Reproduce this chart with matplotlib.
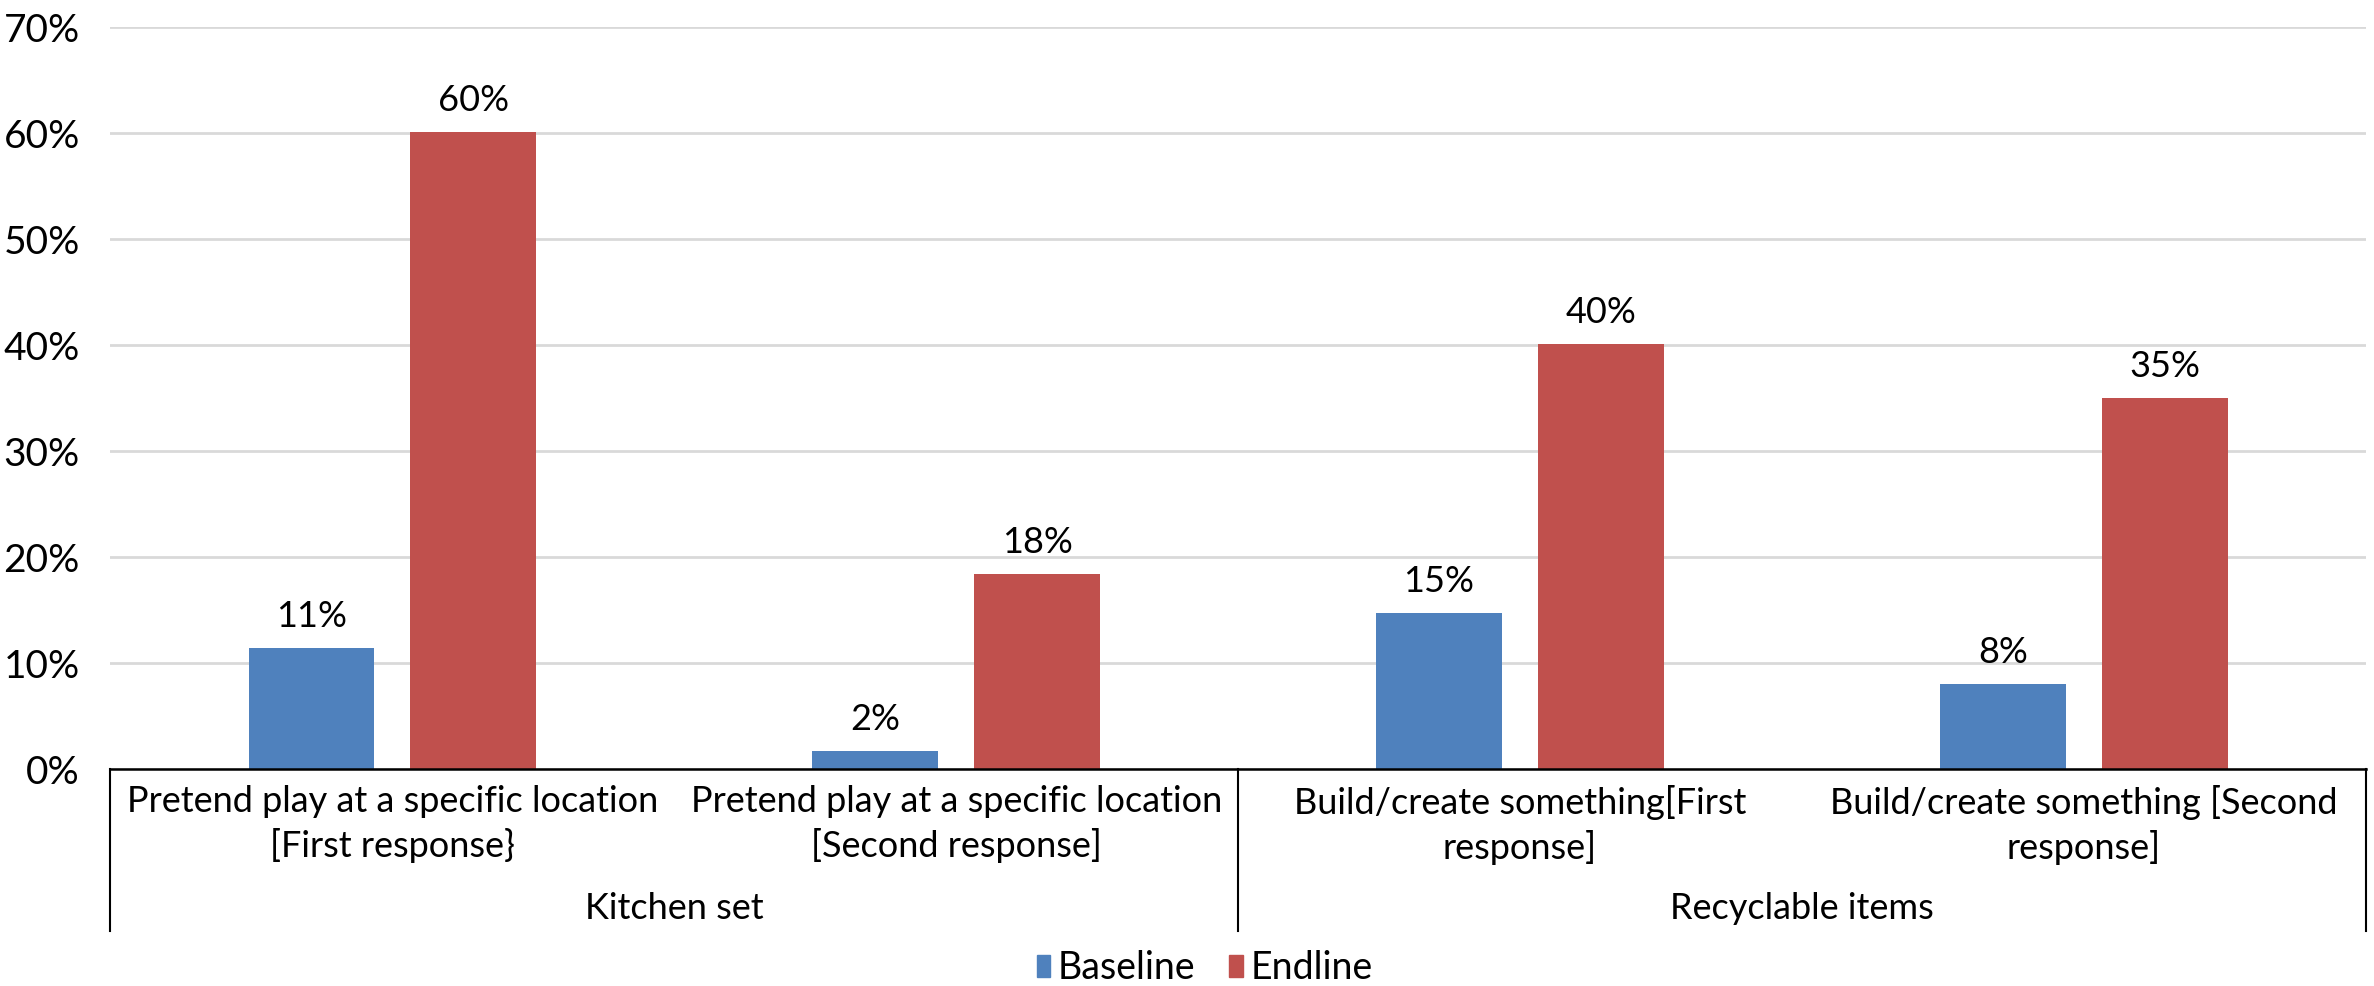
import numpy as np
import matplotlib
matplotlib.use("Agg")
import matplotlib.pyplot as plt
from matplotlib.ticker import MultipleLocator, FuncFormatter
from matplotlib.transforms import blended_transform_factory
from matplotlib.lines import Line2D
from matplotlib.patches import Patch

# Data
sub_categories = [
    "Pretend play at a specific location\n[First response}",
    "Pretend play at a specific location\n[Second response]",
    "Build/create something[First\nresponse]",
    "Build/create something [Second\nresponse]",
]
groups = ["Kitchen set", "Recyclable items"]
group_sizes = [2, 2]
baseline = [11.4, 1.7, 14.7, 8.0]
endline = [60.1, 18.4, 40.1, 35.0]
series_names = ["Baseline", "Endline"]
colors = ["#4F81BD", "#C0504D"]

plt.rcParams["font.family"] = ["Lato", "DejaVu Sans"]

fig = plt.figure(figsize=(23.74, 9.86), dpi=100)
ax = fig.add_axes([0.0465, 0.22, 0.95, 0.7525])

x = np.arange(len(sub_categories))
bw = 0.223
gap = 0.064
off = bw / 2 + gap / 2

b1 = ax.bar(x - off, baseline, bw, color=colors[0], zorder=3)
b2 = ax.bar(x + off, endline, bw, color=colors[1], zorder=3)

for bars, vals in ((b1, baseline), (b2, endline)):
    for rect, v in zip(bars, vals):
        ax.annotate(f"{v:.0f}%", (rect.get_x() + rect.get_width() / 2, v),
                    xytext=(0, 11), textcoords="offset points",
                    ha="center", va="bottom", fontsize=26, color="#000000")

ax.set_xlim(-0.5, len(sub_categories) - 0.5)
ax.set_ylim(0, 70)
ax.yaxis.set_major_locator(MultipleLocator(10))
ax.yaxis.set_major_formatter(FuncFormatter(lambda v, p: f"{v:.0f}%"))
ax.tick_params(axis="y", length=0, labelsize=28, pad=22)
ax.tick_params(axis="x", length=0, labelbottom=False)
ax.grid(axis="y", color="#d9d9d9", linewidth=2, zorder=0)
for s in ("top", "right", "left"):
    ax.spines[s].set_visible(False)
ax.spines["bottom"].set_color("#000000")
ax.spines["bottom"].set_linewidth(1.8)
ax.spines["bottom"].set_zorder(4)

trans = blended_transform_factory(ax.transData, ax.transAxes)

# Sub-category labels
for xi, lab in zip(x, sub_categories):
    ax.text(xi, -0.022, lab, transform=trans, ha="center", va="top",
            fontsize=26, linespacing=1.32)

# Group labels and separators
start = -0.5
bounds = [start]
for gname, n in zip(groups, group_sizes):
    center = start + n / 2
    ax.text(center, -0.165, gname, transform=trans, ha="center", va="top",
            fontsize=26)
    start += n
    bounds.append(start)
for b in bounds:
    ax.add_line(Line2D([b, b], [0, -0.218], transform=trans, color="#000000",
                       linewidth=1.5, clip_on=False))

handles = [Patch(color=c, label=n) for c, n in zip(colors, series_names)]
fig.legend(handles=handles, loc="center", bbox_to_anchor=(0.5075, 0.018),
           ncol=2, frameon=False, fontsize=27, handlelength=0.36,
           handleheight=0.55, handletextpad=0.2, columnspacing=0.9)

fig.savefig("out.png", dpi=100)
